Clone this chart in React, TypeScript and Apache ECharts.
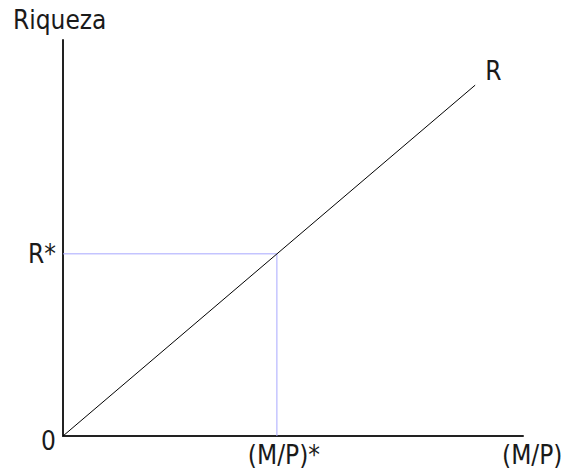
import React, { useEffect, useRef } from "react";
import * as echarts from "echarts";

const axisRange = { xMax: 100, yMax: 100 };
const lineR: [number, number][] = [
  [0, 0],
  [89.6, 88.6],
];
const starX = 46.5;
const starY = 46.0;
const guide: [number, number][] = [
  [0, starY],
  [starX, starY],
  [starX, 0],
];
const labels = {
  yName: "Riqueza",
  xName: "(M/P)",
  xStar: "(M/P)*",
  yStar: "R*",
  origin: "0",
  line: "R",
};

const FONT = "'DejaVu Sans Condensed', 'Liberation Sans Narrow', sans-serif";
const FS = 26;

export default function App() {
  const ref = useRef<HTMLDivElement>(null);
  useEffect(() => {
    document.body.style.margin = "0";
    const chart = echarts.init(ref.current!, null, { renderer: "svg" });
    const textStyle = { fontFamily: FONT, fontSize: FS, color: "#1a1a1a" };
    chart.setOption({
      animation: false,
      backgroundColor: "#ffffff",
      grid: { left: 63, top: 40, width: 460, height: 396 },
      xAxis: {
        type: "value",
        min: 0,
        max: axisRange.xMax,
        splitLine: { show: false },
        axisTick: { show: false },
        axisLine: { show: true, lineStyle: { color: "#222", width: 2 } },
        axisLabel: {
          customValues: [starX],
          formatter: () => labels.xStar,
          ...textStyle,
          margin: 6,
          padding: [0, 0, 0, 14],
        },
      },
      yAxis: {
        type: "value",
        min: 0,
        max: axisRange.yMax,
        splitLine: { show: false },
        axisTick: { show: false },
        axisLine: { show: true, lineStyle: { color: "#222", width: 2 } },
        axisLabel: {
          customValues: [starY],
          formatter: () => labels.yStar,
          ...textStyle,
          margin: 7,
          padding: [0, 0, 7, 0],
        },
      },
      graphic: [
        {
          type: "text",
          left: 13,
          top: 7,
          style: { text: labels.yName, font: `${FS}px ${FONT}`, fill: "#1a1a1a" },
        },
        {
          type: "text",
          left: 502,
          top: 442,
          style: { text: labels.xName, font: `${FS}px ${FONT}`, fill: "#1a1a1a" },
        },
        {
          type: "text",
          left: 41,
          top: 428,
          style: { text: labels.origin, font: `${FS}px ${FONT}`, fill: "#1a1a1a" },
        },
      ],
      series: [
        {
          type: "line",
          data: guide,
          symbol: "none",
          lineStyle: { color: "#a8a8ff", width: 1 },
          silent: true,
        },
        {
          type: "line",
          data: lineR,
          symbol: "none",
          lineStyle: { color: "#000", width: 1 },
          endLabel: {
            show: true,
            formatter: () => labels.line,
            ...textStyle,
            offset: [2, -14],
          },
          silent: true,
        },
      ],
    });
    return () => chart.dispose();
  }, []);
  return (
    <div
      ref={ref}
      style={{ position: "absolute", left: 0, top: 0, width: 565, height: 474 }}
    />
  );
}
